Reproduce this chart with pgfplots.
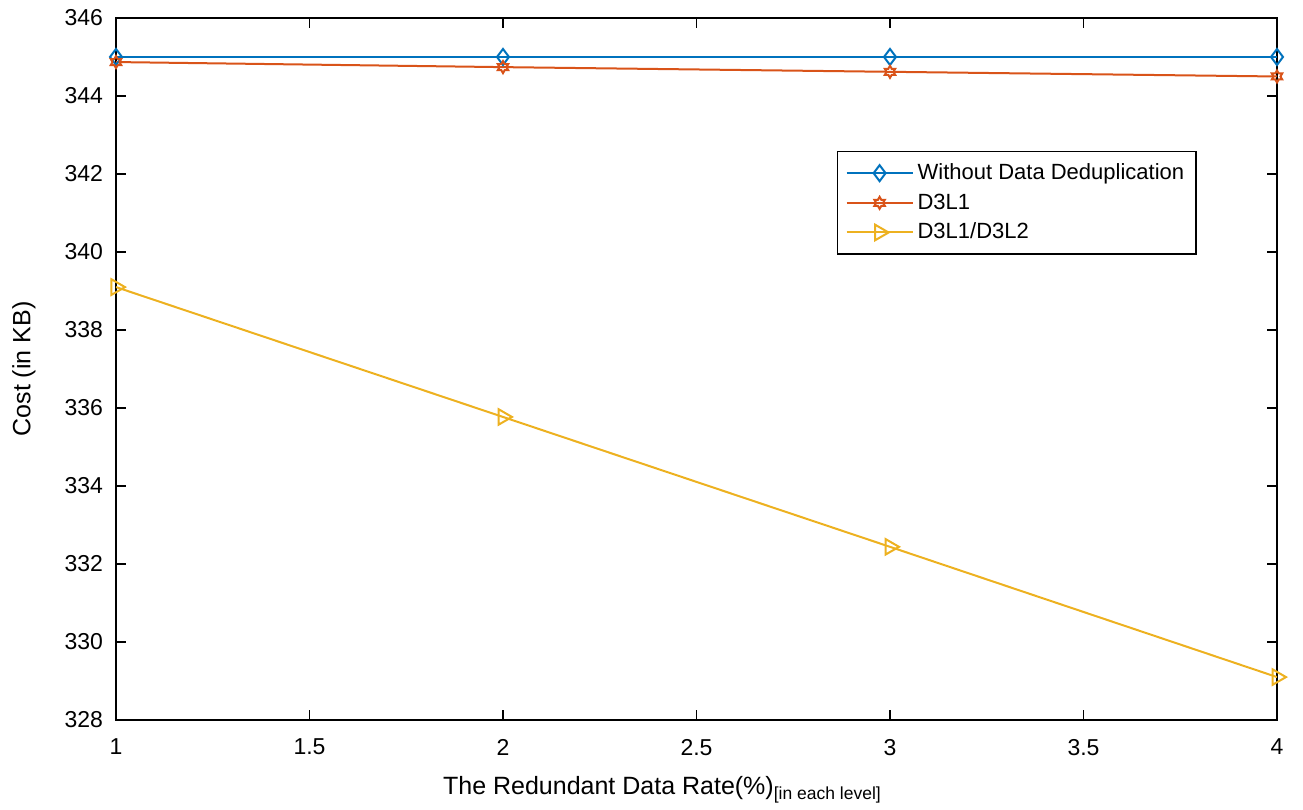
\documentclass[border=0pt]{standalone}
\usepackage{pgfplots}
\pgfplotsset{compat=1.18}
\usepackage{fontspec}
\setmainfont{Liberation Sans}

\definecolor{mblue}{rgb}{0,0.447,0.741}
\definecolor{morange}{rgb}{0.85,0.325,0.098}
\definecolor{myellow}{rgb}{0.929,0.694,0.125}

% six-pointed star outline (like matlab 'h')
\pgfdeclareplotmark{hexagram}{%
  \pgfpathmoveto{\pgfpointpolar{90}{\pgfplotmarksize}}%
  \pgfpathlineto{\pgfpointpolar{120}{0.577\pgfplotmarksize}}%
  \pgfpathlineto{\pgfpointpolar{150}{\pgfplotmarksize}}%
  \pgfpathlineto{\pgfpointpolar{180}{0.577\pgfplotmarksize}}%
  \pgfpathlineto{\pgfpointpolar{210}{\pgfplotmarksize}}%
  \pgfpathlineto{\pgfpointpolar{240}{0.577\pgfplotmarksize}}%
  \pgfpathlineto{\pgfpointpolar{270}{\pgfplotmarksize}}%
  \pgfpathlineto{\pgfpointpolar{300}{0.577\pgfplotmarksize}}%
  \pgfpathlineto{\pgfpointpolar{330}{\pgfplotmarksize}}%
  \pgfpathlineto{\pgfpointpolar{0}{0.577\pgfplotmarksize}}%
  \pgfpathlineto{\pgfpointpolar{30}{\pgfplotmarksize}}%
  \pgfpathlineto{\pgfpointpolar{60}{0.577\pgfplotmarksize}}%
  \pgfpathclose
  \pgfusepathqstroke
}

\begin{document}
\begin{tikzpicture}
\begin{axis}[
    name=ax,
    width=580.5pt, height=351pt, scale only axis,
    xmin=1, xmax=4, ymin=328, ymax=346,
    xtick={1,1.5,...,4}, ytick={328,330,...,346},
    tick align=inside, tick pos=both,
    major tick length=5pt,
    axis line style={line width=0.7pt},
    tick style={line width=0.7pt, black},
    tick label style={font=\fontsize{11.5}{13}\selectfont},
    /pgf/number format/assume math mode=true,
    xticklabel style={yshift=-6pt},
    yticklabel style={xshift=-3pt},
    xlabel={The Redundant Data Rate(\%)\textsubscript{[in each level]}},
    ylabel={Cost (in KB)},
    every axis x label/.style={at={(axis description cs:0.5,0)}, anchor=base,
        yshift=-37.5pt, xshift=-17pt, font=\fontsize{12.5}{14}\selectfont},
    every axis y label/.style={at={(axis description cs:0,0.5)}, anchor=center,
        rotate=90, yshift=46pt, font=\fontsize{12.5}{14}\selectfont},
    legend style={at={(0.931,0.8105)}, anchor=north east,
        font=\fontsize{11}{13}\selectfont, draw=black, line width=0.7pt,
        row sep=1.5pt, inner sep=4pt},
    legend cell align=left,
    legend image code/.code={\draw[mark repeat=2,mark phase=2] plot coordinates {(0pt,0pt)(16.5pt,0pt)(33pt,0pt)};},
    every axis plot/.append style={line width=1pt},
]
\addplot[color=mblue, mark=diamond, mark size=4pt] coordinates {(1,345)(2,345)(3,345)(4,345)};
\addlegendentry{Without Data Deduplication}
\addplot[color=morange, mark=hexagram, mark size=3pt] coordinates {(1,344.87)(2,344.74)(3,344.62)(4,344.5)};
\addlegendentry{D3L1}
\addplot[color=myellow, mark=triangle, mark size=4.5pt, mark options={rotate=-90}] coordinates {(1,339.1)(2,335.77)(3,332.44)(4,329.1)};
\addlegendentry{D3L1/D3L2}
\end{axis}
\path (ax.south west) ++(-58pt,-43.5pt) coordinate (bbA);
\path (ax.north east) ++(13pt,9pt) coordinate (bbB);
\useasboundingbox (bbA) rectangle (bbB);
\end{tikzpicture}
\end{document}
